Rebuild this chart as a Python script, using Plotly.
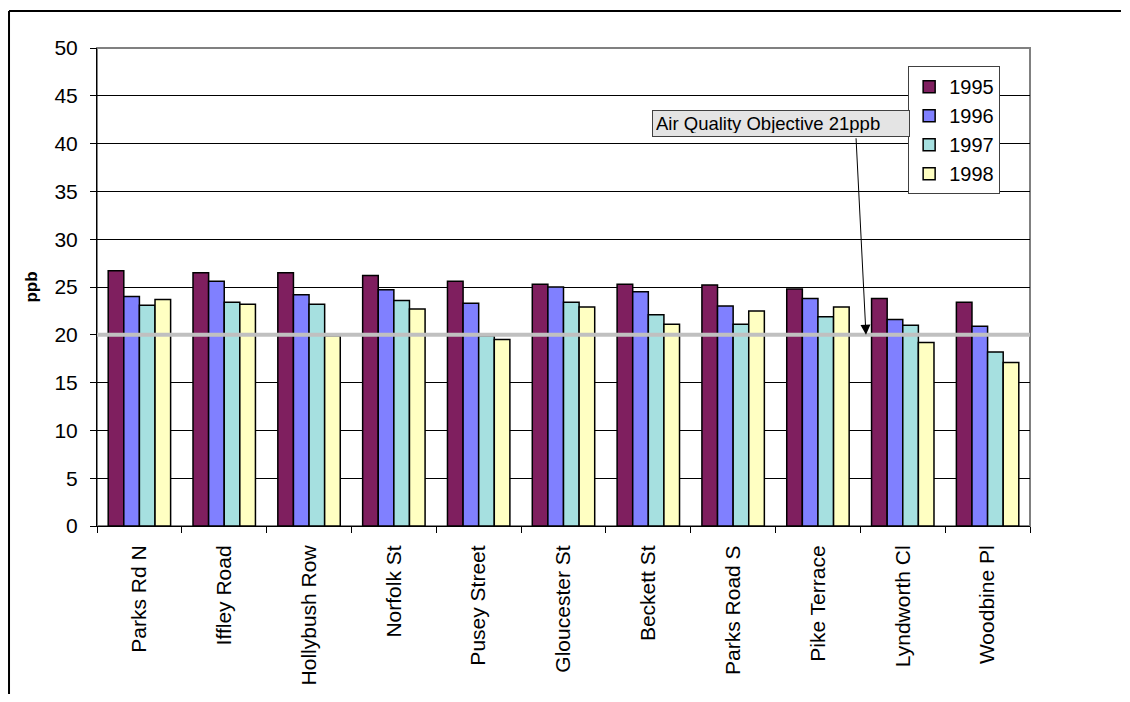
import plotly.graph_objects as go

sites = ["Parks Rd N", "Iffley Road", "Hollybush Row", "Norfolk St", "Pusey Street",
         "Gloucester St", "Beckett St", "Parks Road S", "Pike Terrace", "Lyndworth Cl", "Woodbine Pl"]
years = ["1995", "1996", "1997", "1998"]
v1995 = [26.7, 26.5, 26.5, 26.2, 25.6, 25.3, 25.3, 25.2, 24.8, 23.8, 23.4]
v1996 = [24.0, 25.6, 24.2, 24.7, 23.3, 25.0, 24.5, 23.0, 23.8, 21.6, 20.9]
v1997 = [23.1, 23.4, 23.2, 23.6, 19.9, 23.4, 22.1, 21.1, 21.9, 21.0, 18.2]
v1998 = [23.7, 23.2, 19.9, 22.7, 19.5, 22.9, 21.1, 22.5, 22.9, 19.2, 17.1]
objective_line = 20
annotation_text = "Air Quality Objective 21ppb"
y_ticks = list(range(0, 55, 5))

series = [v1995, v1996, v1997, v1998]
colors = ["#7F1F5F", "#8080FF", "#A6E0E0", "#FFFFC2"]

FONT = "Arial, Liberation Sans, sans-serif"

fig = go.Figure()
for name, vals, col in zip(years, series, colors):
    fig.add_trace(go.Bar(
        x=sites, y=vals, name=name,
        marker=dict(color=col, line=dict(color="black", width=1.5)),
    ))

fig.update_layout(
    width=1114, height=686,
    margin=dict(l=89, r=92, t=40, b=168, autoexpand=False),
    paper_bgcolor="white", plot_bgcolor="white",
    barmode="group", bargap=0.264, bargroupgap=0,
    font=dict(family=FONT, color="black", size=21),
    showlegend=True,
    legend=dict(
        x=0.968, y=0.962, xanchor="right", yanchor="top",
        bgcolor="white", bordercolor="#404040", borderwidth=1,
        font=dict(family=FONT, size=20, color="black"),
        tracegroupgap=0,
    ),
)

fig.update_yaxes(
    range=[0, 50], tickvals=y_ticks, ticktext=[str(t) for t in y_ticks],
    showgrid=True, gridcolor="black", gridwidth=1,
    showline=True, linecolor="black", linewidth=1,
    ticks="outside", ticklen=6, tickcolor="black", tickwidth=1,
    ticklabelstandoff=8, automargin=False,
    tickfont=dict(family=FONT, size=21, color="black"),
    title=dict(text="<b>ppb</b>", font=dict(family=FONT, size=17, color="black"), standoff=12),
    zeroline=False,
)
fig.update_xaxes(
    type="category",
    showline=True, linecolor="black", linewidth=1,
    ticks="outside", ticklen=6, tickcolor="black", tickwidth=1,
    tickson="boundaries", automargin=False,
    tickangle=-90, ticklabelstandoff=10,
    tickfont=dict(family=FONT, size=21, color="black"),
    showgrid=False,
)

shapes = [
    # plot area border (grey, top/right visible)
    dict(type="rect", xref="paper", yref="paper", x0=0, x1=1, y0=0, y1=1,
         line=dict(color="#808080", width=2), layer="below"),
    # objective line
    dict(type="line", xref="paper", yref="y", x0=0, x1=1, y0=objective_line, y1=objective_line,
         line=dict(color="#C0C0C0", width=4), layer="above"),
    # outer chart frame: top and left edges
    dict(type="line", xref="paper", yref="paper", x0=-0.0943, x1=1.0975, y0=1.0774, y1=1.0774,
         line=dict(color="black", width=2), layer="above"),
    dict(type="line", xref="paper", yref="paper", x0=-0.0943, x1=-0.0943, y0=-0.36, y1=1.0774,
         line=dict(color="black", width=2), layer="above"),
]
fig.update_layout(shapes=shapes)

fig.add_annotation(
    text=annotation_text, xref="paper", yref="paper",
    x=0.7331, y=0.842, xanchor="center", yanchor="middle",
    showarrow=False, align="left", width=250, height=19,
    bgcolor="#E4E4E4", bordercolor="#404040", borderwidth=1, borderpad=3,
    font=dict(family=FONT, size=18.5, color="black"),
)
fig.add_annotation(
    text="", xref="paper", yref="y",
    x=0.8242, y=objective_line,
    ax=-10, ay=-198, axref="pixel", ayref="pixel",
    showarrow=True, arrowhead=2, arrowsize=2, arrowwidth=1, arrowcolor="black",
    standoff=0, startstandoff=0,
)

fig.write_html("out.html")
